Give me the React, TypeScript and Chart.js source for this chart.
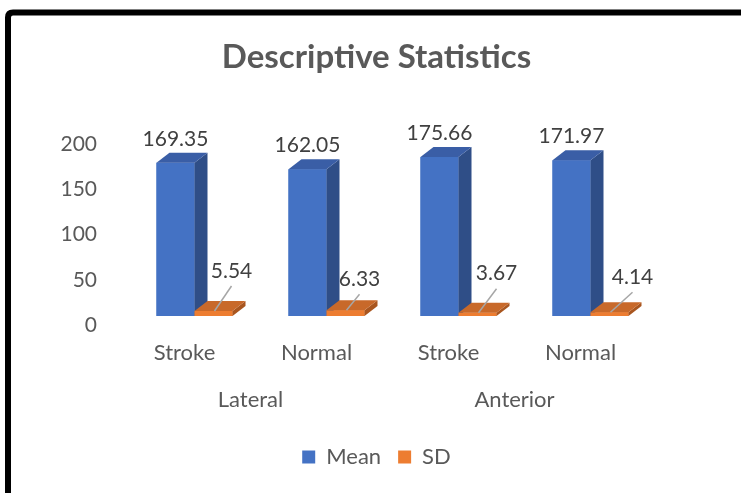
import React, { useEffect, useRef } from "react";
import { Chart, registerables } from "chart.js";

Chart.register(...registerables);

const categories = ["Stroke", "Normal", "Stroke", "Normal"];
const groups = ["Lateral", "Anterior"];
const meanValues = [169.35, 162.05, 175.66, 171.97];
const sdValues = [5.54, 6.33, 3.67, 4.14];
const yTicks = [0, 50, 100, 150, 200];
const chartTitle = "Descriptive Statistics";

// style / placement (not data)
const FONT = "Lato, 'Noto Sans', sans-serif";
const DEPTH_X = 13;
const DEPTH_Y = -10;
const faceColors = [
  { front: "#4472C4", side: "#2F4E87", top: "#3A5EA6" },
  { front: "#ED7D31", side: "#A9561F", top: "#C8692A" },
];
const sdLabelOffsets = [
  [18, -40],
  [14, -31],
  [19, -39],
  [23, -35],
];

const framePlugin = {
  id: "frame",
  beforeDraw(chart: any) {
    const ctx = chart.ctx;
    ctx.save();
    ctx.fillStyle = "#ffffff";
    ctx.fillRect(0, 0, chart.width, chart.height);
    ctx.strokeStyle = "#000000";
    ctx.lineWidth = 6;
    ctx.beginPath();
    const x = 8, y = 12.5, w = 800, h = 600, r = 5;
    ctx.moveTo(x + r, y);
    ctx.lineTo(x + w, y);
    ctx.moveTo(x, y + h);
    ctx.lineTo(x, y + r);
    ctx.quadraticCurveTo(x, y, x + r, y);
    ctx.stroke();
    ctx.restore();
  },
};

const bars3dPlugin = {
  id: "bars3d",
  afterDatasetsDraw(chart: any) {
    const ctx = chart.ctx;
    ctx.save();
    [0, 1].forEach((di) => {
      const meta = chart.getDatasetMeta(di);
      const c = faceColors[di];
      meta.data.forEach((el: any) => {
        const { x, y, base, width } = el.getProps(["x", "y", "base", "width"], true);
        const l = x - width / 2;
        const r = x + width / 2;
        ctx.fillStyle = c.front;
        ctx.fillRect(l, y, r - l, base - y);
        ctx.fillStyle = c.side;
        ctx.beginPath();
        ctx.moveTo(r, y);
        ctx.lineTo(r + DEPTH_X, y + DEPTH_Y);
        ctx.lineTo(r + DEPTH_X, base + DEPTH_Y);
        ctx.lineTo(r, base);
        ctx.closePath();
        ctx.fill();
        ctx.fillStyle = c.top;
        ctx.beginPath();
        ctx.moveTo(l, y);
        ctx.lineTo(r, y);
        ctx.lineTo(r + DEPTH_X, y + DEPTH_Y);
        ctx.lineTo(l + DEPTH_X, y + DEPTH_Y);
        ctx.closePath();
        ctx.fill();
      });
    });
    ctx.restore();
  },
};

const labelsPlugin = {
  id: "valueLabels",
  afterDraw(chart: any) {
    const ctx = chart.ctx;
    ctx.save();
    ctx.font = `21px ${FONT}`;
    ctx.fillStyle = "#404040";
    ctx.textAlign = "center";
    ctx.textBaseline = "middle";
    const m0 = chart.getDatasetMeta(0);
    m0.data.forEach((el: any, i: number) => {
      const { x, y } = el.getProps(["x", "y"], true);
      ctx.fillText(meanValues[i].toFixed(2), x, y - 24);
    });
    const m1 = chart.getDatasetMeta(1);
    m1.data.forEach((el: any, i: number) => {
      const { x, y } = el.getProps(["x", "y"], true);
      const [ox, oy] = sdLabelOffsets[i];
      const lx = x + ox;
      const ly = y + oy;
      ctx.strokeStyle = "#A6A6A6";
      ctx.lineWidth = 1.5;
      ctx.beginPath();
      ctx.moveTo(x + 1, y);
      ctx.lineTo(lx, ly + 15);
      ctx.stroke();
      ctx.fillStyle = "#404040";
      ctx.fillText(sdValues[i].toFixed(2), lx, ly);
    });
    ctx.restore();
  },
};

export default function App() {
  const ref = useRef<HTMLCanvasElement>(null);
  useEffect(() => {
    if (!ref.current) return;
    const chart = new Chart(ref.current, {
      type: "bar",
      data: {
        labels: categories,
        datasets: [
          {
            label: "Mean",
            data: meanValues,
            backgroundColor: faceColors[0].front,
            categoryPercentage: 0.576,
            barPercentage: 1,
          },
          {
            label: "SD",
            data: sdValues,
            backgroundColor: faceColors[1].front,
            categoryPercentage: 0.576,
            barPercentage: 1,
          },
        ],
      },
      options: {
        responsive: false,
        animation: false,
        layout: { padding: { top: 0, left: 12, right: 0, bottom: 15 } },
        plugins: {
          tooltip: { enabled: false },
          title: {
            display: true,
            text: chartTitle,
            color: "#595959",
            font: { family: FONT, size: 33, weight: "bold", lineHeight: 1.2 },
            padding: { top: 37.2, bottom: 58.2 },
          },
          legend: {
            display: true,
            position: "bottom",
            labels: {
              color: "#595959",
              font: { family: FONT, size: 22 },
              boxWidth: 13,
              boxHeight: 13,
              padding: 17,
            },
          },
        },
        scales: {
          y: {
            min: 0,
            max: 200,
            grid: { display: false, drawTicks: false },
            border: { display: false },
            afterBuildTicks: (s: any) => {
              s.ticks = yTicks.map((v) => ({ value: v }));
            },
            afterFit: (s: any) => {
              s.width = 116.5;
            },
            ticks: {
              color: "#595959",
              font: { family: FONT, size: 21 },
              padding: 31.5,
              labelOffset: 9,
            },
          },
          yRight: {
            type: "linear",
            position: "right",
            grid: { display: false, drawTicks: false },
            border: { display: false },
            ticks: { display: false },
            afterFit: (s: any) => {
              s.width = 84.5;
            },
          },
          x: {
            type: "category",
            position: "bottom",
            weight: 0,
            offset: true,
            grid: { display: false, drawTicks: false },
            border: { display: false },
            afterFit: (s: any) => {
              s.height = 50;
            },
            ticks: {
              color: "#595959",
              font: { family: FONT, size: 22 },
              padding: 24,
              labelOffset: -10,
              maxRotation: 0,
              autoSkip: false,
            },
          },
          x2: {
            type: "category",
            labels: groups,
            position: "bottom",
            weight: 1,
            offset: true,
            grid: { display: false, drawTicks: false },
            border: { display: false },
            afterFit: (s: any) => {
              s.height = 63;
            },
            ticks: {
              color: "#595959",
              font: { family: FONT, size: 22 },
              padding: 21,
              labelOffset: -10,
              maxRotation: 0,
              autoSkip: false,
            },
          },
        },
      } as any,
      plugins: [framePlugin, bars3dPlugin, labelsPlugin],
    });
    return () => chart.destroy();
  }, []);
  return (
    <div style={{ position: "fixed", left: 0, top: 0, width: 741, height: 493, background: "#fff" }}>
      <canvas ref={ref} width={741} height={493} style={{ display: "block" }} />
    </div>
  );
}
